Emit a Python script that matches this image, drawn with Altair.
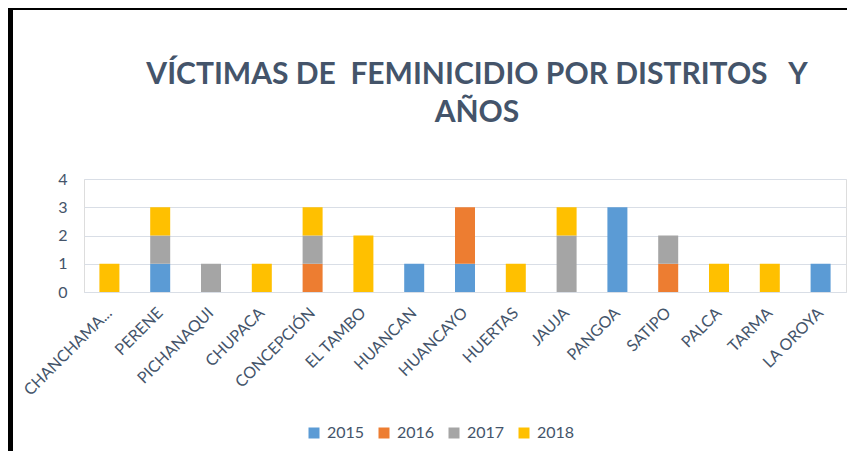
import altair as alt
import pandas as pd

districts = ["CHANCHAMA...", "PERENE", "PICHANAQUI", "CHUPACA", "CONCEPCIÓN",
             "EL TAMBO", "HUANCAN", "HUANCAYO", "HUERTAS", "JAUJA",
             "PANGOA", "SATIPO", "PALCA", "TARMA", "LA OROYA"]
years = ["2015", "2016", "2017", "2018"]
v2015 = [0, 1, 0, 0, 0, 0, 1, 1, 0, 0, 3, 0, 0, 0, 1]
v2016 = [0, 0, 0, 0, 1, 0, 0, 2, 0, 0, 0, 1, 0, 0, 0]
v2017 = [0, 1, 1, 0, 1, 0, 0, 0, 0, 2, 0, 1, 0, 0, 0]
v2018 = [1, 1, 0, 1, 1, 2, 0, 0, 1, 1, 0, 0, 1, 1, 0]
colors = ["#5B9BD5", "#ED7D31", "#A5A5A5", "#FFC000"]

title_line1 = "VÍCTIMAS DE\u00a0 FEMINICIDIO POR DISTRITOS\u00a0\u00a0 Y"
title_line2 = "AÑOS"

rows = []
for yi, (yr, vals) in enumerate(zip(years, [v2015, v2016, v2017, v2018])):
    for d, v in zip(districts, vals):
        rows.append({"distrito": d, "año": yr, "orden": yi, "victimas": v})
df = pd.DataFrame(rows)

W, H = 762, 113
PL, PT, PR, PB = 76, 171, 1, 159
TXT = "#44546A"
FONT = "Lato"

bars = alt.Chart(df).mark_bar(size=20).encode(
    x=alt.X("distrito:N", sort=districts, title=None,
            axis=alt.Axis(labelAngle=-45, labelAlign="right", labelBaseline="middle",
                          labelFontSize=16, labelFont=FONT, labelColor=TXT,
                          labelPadding=18, ticks=False, domainColor="#D9DEE6",
                          labelOverlap=False, labelLimit=200)),
    y=alt.Y("victimas:Q", stack="zero", title=None,
            scale=alt.Scale(domain=[0, 4], nice=False),
            axis=alt.Axis(values=[0, 1, 2, 3, 4], format="d", labelFontSize=16,
                          labelFont=FONT, labelColor=TXT, labelPadding=17,
                          ticks=False, domain=False, gridColor="#D9DEE6")),
    color=alt.Color("año:N", sort=years,
                    scale=alt.Scale(domain=years, range=colors),
                    legend=alt.Legend(orient="none", direction="horizontal", title=None,
                                      legendX=222, legendY=246, symbolType="square",
                                      symbolSize=121, symbolStrokeWidth=0,
                                      labelFontSize=16, labelFont=FONT, labelColor=TXT,
                                      labelOffset=5, columnPadding=11, padding=0)),
    order=alt.Order("orden:Q", sort="ascending"),
)

one = pd.DataFrame({"f": [0]})
left_line = alt.Chart(one).mark_rect(color="black").encode(
    x=alt.value(-PL), x2=alt.value(-PL + 5), y=alt.value(-PT), y2=alt.value(H + PB))
top_line = alt.Chart(one).mark_rect(color="black").encode(
    x=alt.value(-PL), x2=alt.value(W + PR), y=alt.value(-PT), y2=alt.value(-PT + 2))

def title_text(txt, ypos):
    return alt.Chart(pd.DataFrame({"t": [txt]})).mark_text(
        font=FONT, fontSize=30, fontWeight="bold", color=TXT,
        align="center", baseline="alphabetic").encode(
        text="t:N", x=alt.value(393), y=alt.value(ypos))

t1 = title_text(title_line1, -95)
t2 = title_text(title_line2, -57)

chart = alt.layer(bars, left_line, top_line, t1, t2).properties(
    width=W, height=H,
    autosize=alt.AutoSizeParams(type="none"),
    padding={"left": PL, "top": PT, "right": PR, "bottom": PB},
).configure_view(stroke=None).configure(background="white")

chart.save("out.html", embed_options={"renderer": "svg", "actions": False})
